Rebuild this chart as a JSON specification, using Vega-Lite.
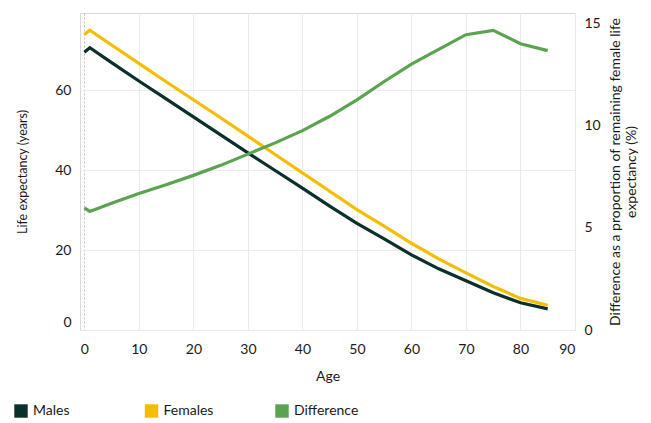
{
  "$schema": "https://vega.github.io/schema/vega-lite/v6.json",
  "width": 495,
  "height": 317,
  "autosize": {"type": "none"},
  "padding": {"left": 80, "top": 13, "right": 76, "bottom": 93},
  "config": {
    "font": "Lato",
    "view": {"stroke": "#d9d9d9"},
    "axis": {
      "labelFontSize": 14,
      "titleFontSize": 14,
      "labelColor": "#1a1a1a",
      "titleColor": "#1a1a1a",
      "titleFontWeight": "normal",
      "domain": false,
      "ticks": false,
      "gridColor": "#ebebeb"
    }
  },
  "data": {
    "values": [
      {"age": 0, "Males": 69.5, "Females": 73.9, "Difference": 5.97},
      {"age": 1, "Males": 70.6, "Females": 75.0, "Difference": 5.8},
      {"age": 5, "Males": 66.9, "Females": 71.3, "Difference": 6.2},
      {"age": 10, "Males": 62.3, "Females": 66.7, "Difference": 6.67},
      {"age": 15, "Males": 57.8, "Females": 62.1, "Difference": 7.1},
      {"age": 20, "Males": 53.3, "Females": 57.6, "Difference": 7.56},
      {"age": 25, "Males": 48.8, "Females": 53.1, "Difference": 8.05},
      {"age": 30, "Males": 44.3, "Females": 48.5, "Difference": 8.6},
      {"age": 35, "Males": 39.9, "Females": 43.9, "Difference": 9.15},
      {"age": 40, "Males": 35.5, "Females": 39.3, "Difference": 9.75},
      {"age": 45, "Males": 31.0, "Females": 34.7, "Difference": 10.45},
      {"age": 50, "Males": 26.7, "Females": 30.1, "Difference": 11.25},
      {"age": 55, "Males": 22.8, "Females": 26.0, "Difference": 12.15},
      {"age": 60, "Males": 18.8, "Females": 21.7, "Difference": 13.0},
      {"age": 65, "Males": 15.3, "Females": 17.8, "Difference": 13.72},
      {"age": 70, "Males": 12.3, "Females": 14.3, "Difference": 14.44},
      {"age": 75, "Males": 9.3, "Females": 10.9, "Difference": 14.65},
      {"age": 80, "Males": 6.8, "Females": 7.9, "Difference": 14.0},
      {"age": 85, "Males": 5.3, "Females": 6.2, "Difference": 13.66}
    ]
  },
  "layer": [
    {
      "transform": [{"fold": ["Males", "Females"], "as": ["series", "value"]}],
      "mark": {"type": "line", "strokeWidth": 3.2},
      "encoding": {
        "x": {
          "field": "age",
          "type": "quantitative",
          "scale": {"domain": [-0.8, 90], "nice": false, "zero": false},
          "axis": {
            "title": "Age",
            "values": [0, 10, 20, 30, 40, 50, 60, 70, 80, 90],
            "labelPadding": 12,
            "titlePadding": 13,
            "gridDash": {"condition": {"test": "datum.value === 0", "value": [2, 2]}, "value": []},
            "gridColor": {"condition": {"test": "datum.value === 0", "value": "#bdbdbd"}, "value": "#ebebeb"}
          }
        },
        "y": {
          "field": "value",
          "type": "quantitative",
          "scale": {"domain": [0, 79.3], "nice": false},
          "axis": {
            "title": "Life expectancy (years)",
            "titleFontSize": 12.5,
            "values": [0, 20, 40, 60],
            "labelPadding": 9,
            "titlePadding": 25,
            "labelOffset": {"condition": {"test": "datum.value === 0", "value": -8}, "value": 0}
          }
        },
        "color": {
          "field": "series",
          "type": "nominal",
          "scale": {"domain": ["Males", "Females", "Difference"], "range": ["#0b302c", "#f5bd00", "#5aa34f"]},
          "legend": {
            "title": null,
            "orient": "none",
            "legendX": -66,
            "legendY": 391,
            "direction": "horizontal",
            "columns": 3,
            "gridAlign": "all",
            "columnPadding": 46.5,
            "symbolType": "square",
            "symbolSize": 180,
            "symbolStrokeWidth": 0,
            "labelFontSize": 14,
            "labelOffset": 5,
            "labelColor": "#1a1a1a",
            "encode": {"symbols": {"update": {"fill": {"scale": "color", "field": "value"}, "fillOpacity": {"value": 1}}}}
          }
        }
      }
    },
    {
      "transform": [{"fold": ["Difference"], "as": ["series", "value"]}],
      "mark": {"type": "line", "strokeWidth": 3.2},
      "encoding": {
        "x": {"field": "age", "type": "quantitative"},
        "y": {
          "field": "value",
          "type": "quantitative",
          "scale": {"domain": [0, 15.5], "nice": false},
          "axis": {
            "orient": "right",
            "title": ["Difference as a proportion of remaining female life", "expectancy (%)"],
            "titleAngle": 270,
            "values": [0, 5, 10, 15],
            "grid": false,
            "labelPadding": 9,
            "titlePadding": 6
          }
        },
        "color": {"field": "series", "type": "nominal"}
      }
    }
  ],
  "resolve": {"scale": {"y": "independent"}}
}
